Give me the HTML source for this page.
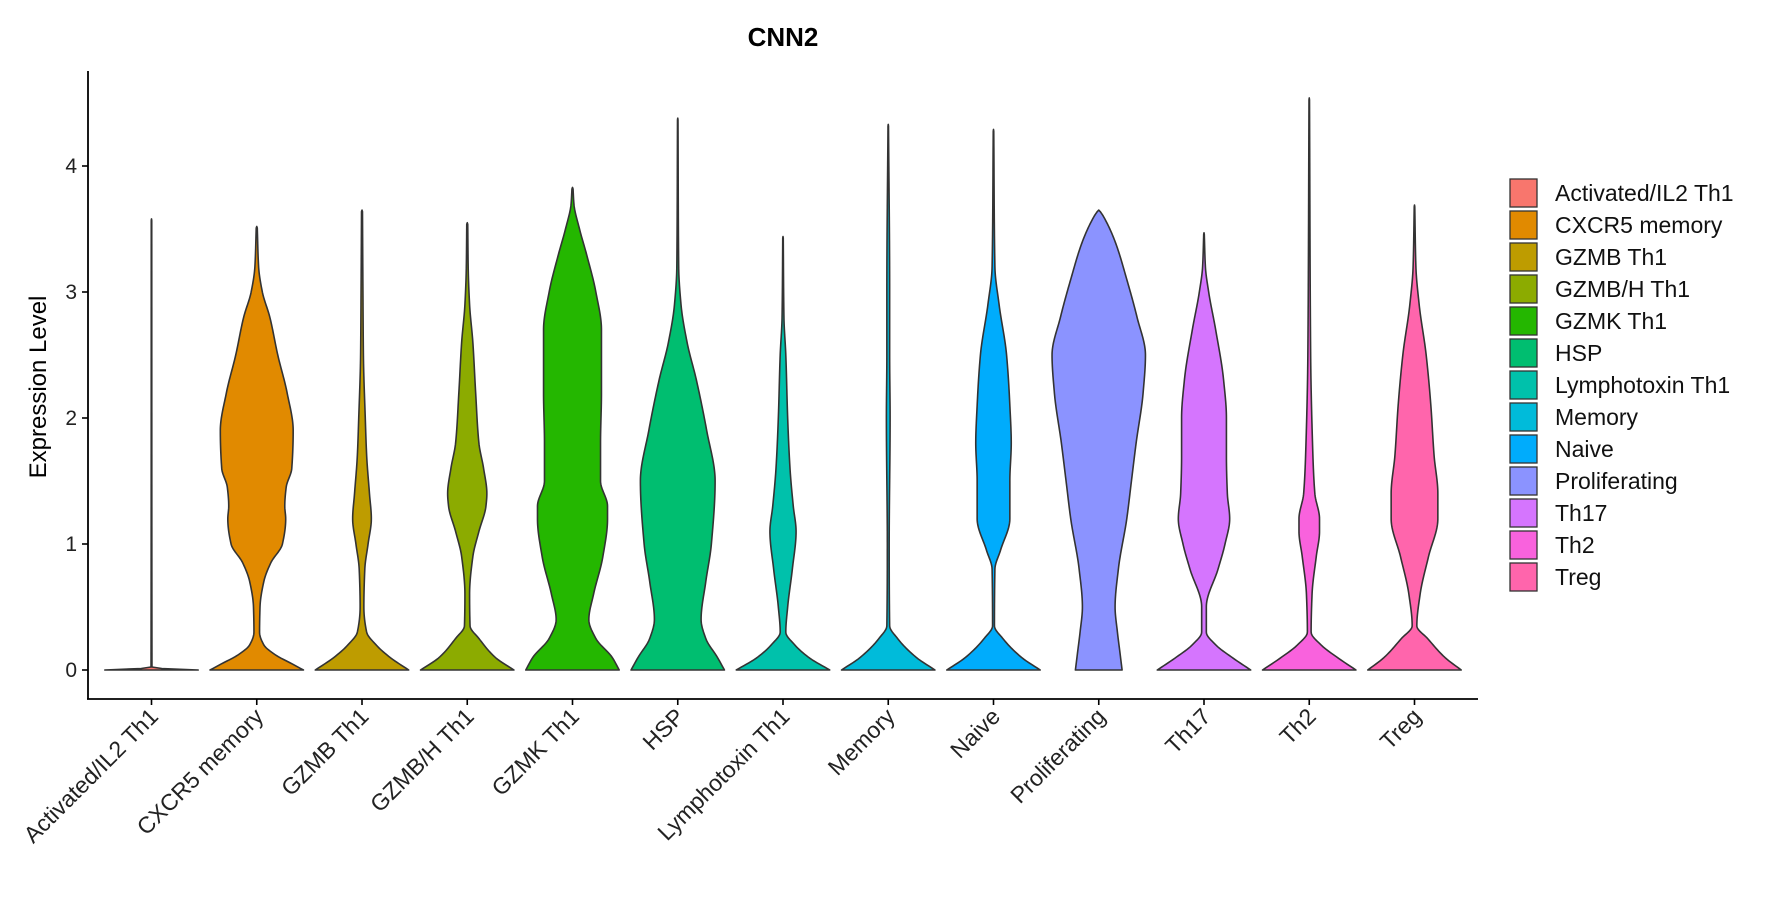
<!DOCTYPE html>
<html><head><meta charset="utf-8">
<style>
body{margin:0;background:#fff;}
svg{display:block;font-family:"Liberation Sans","DejaVu Sans",sans-serif;}
</style></head>
<body>
<svg id="chart" width="1777" height="900" viewBox="0 0 1777 900">
<text x="783" y="46" text-anchor="middle" font-size="26" font-weight="bold">CNN2</text>
<text transform="translate(46,387) rotate(-90)" text-anchor="middle" font-size="24">Expression Level</text>
<g id="plot"></g>
<g id="legend"></g>
</svg>
<script>
const categories=["Activated/IL2 Th1","CXCR5 memory","GZMB Th1","GZMB/H Th1","GZMK Th1","HSP","Lymphotoxin Th1","Memory","Naive","Proliferating","Th17","Th2","Treg"];
const colors=["#F8766D","#E18A00","#BE9C00","#8CAB00","#24B700","#00BE70","#00C1AB","#00BBDA","#00ACFC","#8B93FF","#D575FE","#F962DD","#FF65AC"];
const yTicks=[0,1,2,3,4];
const profActivated=[[0,1],[0.01,0.3],[0.02,0.01],[3.58,0.005]];
const profCXCR5=[[0,1],[0.05,0.75],[0.12,0.4],[0.2,0.15],[0.3,0.06],[0.5,0.07],[0.7,0.15],[0.85,0.3],[1.0,0.55],[1.2,0.62],[1.3,0.6],[1.45,0.63],[1.6,0.75],[1.9,0.78],[2.2,0.65],[2.5,0.45],[2.8,0.28],[3.0,0.12],[3.2,0.04],[3.52,0.01]];
const profGZMB=[[0,1],[0.1,0.6],[0.2,0.3],[0.3,0.1],[0.5,0.04],[0.8,0.06],[1.0,0.13],[1.2,0.2],[1.4,0.16],[1.7,0.1],[2.0,0.07],[2.5,0.03],[3.0,0.02],[3.65,0.01]];
const profGZMBH=[[0,1],[0.1,0.6],[0.25,0.25],[0.35,0.06],[0.6,0.05],[0.9,0.12],[1.1,0.25],[1.3,0.4],[1.4,0.42],[1.6,0.35],[1.8,0.25],[2.2,0.18],[2.6,0.12],[2.9,0.05],[3.2,0.02],[3.55,0.01]];
const profGZMK=[[0,1],[0.1,0.85],[0.25,0.5],[0.4,0.35],[0.6,0.45],[0.9,0.65],[1.2,0.75],[1.3,0.75],[1.5,0.6],[1.8,0.6],[2.2,0.62],[2.7,0.62],[3.0,0.5],[3.3,0.3],[3.5,0.15],[3.7,0.03],[3.83,0.01]];
const profHSP=[[0,1],[0.1,0.85],[0.25,0.6],[0.4,0.5],[0.7,0.6],[1.0,0.72],[1.5,0.8],[1.9,0.62],[2.3,0.4],[2.6,0.2],[2.9,0.07],[3.2,0.02],[4.38,0.005]];
const profLympho=[[0,1],[0.1,0.55],[0.2,0.25],[0.3,0.06],[0.5,0.1],[0.8,0.2],[1.1,0.28],[1.3,0.22],[1.6,0.15],[2.0,0.1],[2.5,0.06],[2.8,0.02],[3.44,0.005]];
const profMemory=[[0,1],[0.1,0.6],[0.25,0.2],[0.35,0.03],[1.0,0.02],[2.0,0.04],[2.5,0.03],[3.0,0.03],[4.33,0.005]];
const profNaive=[[0,1],[0.1,0.6],[0.25,0.2],[0.35,0.02],[0.8,0.03],[0.95,0.15],[1.2,0.35],[1.35,0.35],[1.5,0.35],[1.8,0.38],[2.1,0.35],[2.5,0.28],[2.9,0.12],[3.2,0.03],[4.29,0.005]];
const profProlif=[[0,0.5],[0.15,0.45],[0.3,0.4],[0.5,0.35],[0.8,0.42],[1.2,0.6],[1.5,0.7],[1.8,0.8],[2.2,0.95],[2.5,1.0],[2.8,0.82],[3.1,0.6],[3.4,0.35],[3.6,0.1],[3.65,0.01]];
const profTh17=[[0,1],[0.1,0.6],[0.2,0.25],[0.3,0.05],[0.5,0.05],[0.8,0.3],[1.0,0.45],[1.2,0.55],[1.4,0.5],[1.7,0.48],[2.0,0.48],[2.3,0.42],[2.7,0.25],[3.0,0.1],[3.2,0.03],[3.47,0.005]];
const profTh2=[[0,1],[0.1,0.6],[0.2,0.25],[0.3,0.04],[0.6,0.06],[0.9,0.15],[1.1,0.22],[1.2,0.22],[1.4,0.12],[1.8,0.07],[2.5,0.03],[4.54,0.005]];
const profTreg=[[0,1],[0.1,0.65],[0.25,0.28],[0.35,0.05],[0.6,0.12],[0.9,0.3],[1.2,0.5],[1.4,0.5],[1.7,0.42],[2.1,0.35],[2.5,0.25],[2.9,0.1],[3.2,0.03],[3.69,0.005]];
const profiles=[profActivated,profCXCR5,profGZMB,profGZMBH,profGZMK,profHSP,profLympho,profMemory,profNaive,profProlif,profTh17,profTh2,profTreg];

const NS="http://www.w3.org/2000/svg";
const X0=151.5, STEP=105.25, Y0=670, PXU=126, HALF=46.7;
const xPos=i=>X0+i*STEP;
const yPos=v=>Y0-v*PXU;
const plot=document.getElementById('plot');
function mk(tag,attrs,parent){const e=document.createElementNS(NS,tag);for(const k in attrs)e.setAttribute(k,attrs[k]);parent.appendChild(e);return e;}
// monotone cubic interpolation (Fritsch-Carlson) of width over value
function monotone(prof){
  const n=prof.length, xs=prof.map(p=>p[0]), ys=prof.map(p=>p[1]);
  const d=[],m=new Array(n);
  for(let i=0;i<n-1;i++)d.push((ys[i+1]-ys[i])/(xs[i+1]-xs[i]));
  m[0]=d[0];m[n-1]=d[n-2];
  for(let i=1;i<n-1;i++){ if(d[i-1]*d[i]<=0)m[i]=0; else { const w1=2*(xs[i+1]-xs[i])+(xs[i]-xs[i-1]), w2=(xs[i+1]-xs[i])+2*(xs[i]-xs[i-1]); m[i]=(w1+w2)/(w1/d[i-1]+w2/d[i]); } }
  return v=>{
    let i=0; while(i<n-2&&v>xs[i+1])i++;
    const h=xs[i+1]-xs[i], t=(v-xs[i])/h, t2=t*t, t3=t2*t;
    return Math.max(0,(2*t3-3*t2+1)*ys[i]+(t3-2*t2+t)*h*m[i]+(-2*t3+3*t2)*ys[i+1]+(t3-t2)*h*m[i+1]);
  };
}
profiles.forEach((prof,i)=>{
  const cx=xPos(i);
  const f=monotone(prof);
  const top=prof[prof.length-1][0];
  const N=300, right=[], left=[];
  for(let k=0;k<=N;k++){
    const v=top*k/N;
    const w=k===N?0:f(v)*HALF;
    right.push([cx+w,yPos(v)]);
    left.push([cx-w,yPos(v)]);
  }
  const pts=right.concat(left.reverse());
  const d="M"+pts.map(p=>p[0].toFixed(2)+","+p[1].toFixed(2)).join(" L")+" Z";
  const path=mk('path',{d:d,fill:colors[i],stroke:'#333',"stroke-width":1.6,"stroke-linejoin":"round"},plot);
  
  
});
// axes
const yAxis=mk('line',{x1:88,y1:71,x2:88,y2:699,stroke:'#000',"stroke-width":1.8},plot);


const xAxis=mk('line',{x1:87,y1:699,x2:1478,y2:699,stroke:'#000',"stroke-width":1.8},plot);


yTicks.forEach(t=>{
  const tk=mk('line',{x1:82,y1:yPos(t),x2:88,y2:yPos(t),stroke:'#000',"stroke-width":1.6},plot);
  
  
  const tl=mk('text',{x:77,y:yPos(t)+7,"text-anchor":"end","font-size":21,fill:'#222'},plot);
  tl.textContent=t;
  
  
});
categories.forEach((c,i)=>{
  const x=xPos(i);
  const tk=mk('line',{x1:x,y1:699,x2:x,y2:705,stroke:'#000',"stroke-width":1.6},plot);
  
  
  const tl=mk('text',{transform:`translate(${x+8},${718}) rotate(-45)`,"text-anchor":"end","font-size":23,fill:'#222'},plot);
  tl.textContent=c;
  
  
});
// legend
const lg=document.getElementById('legend');
categories.forEach((c,i)=>{
  const y=179+i*32;
  const r=mk('rect',{x:1510,y:y,width:27,height:28,fill:colors[i],stroke:'#333',"stroke-width":1.3},lg);
  
  
  const t=mk('text',{x:1555,y:y+22,"font-size":23,fill:'#111'},lg);
  t.textContent=c;
  
  
});
</script>
</body></html>
